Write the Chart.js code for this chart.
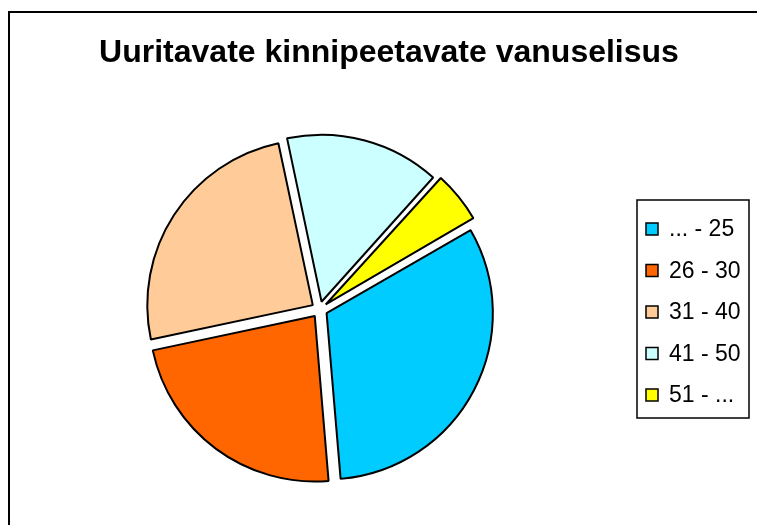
<!DOCTYPE html>
<html>
<head>
<meta charset="utf-8">
<script src="https://cdn.jsdelivr.net/npm/chart.js@4/dist/chart.umd.min.js"></script>
<style>
  html, body { margin: 0; padding: 0; background: #ffffff; }
  #wrap { width: 757px; height: 525px; position: relative; }
</style>
</head>
<body>
<div id="wrap"><canvas id="c" width="757" height="525"></canvas></div>
<script>
const TITLE = 'Uuritavate kinnipeetavate vanuselisus';
const categories = ['... - 25', '26 - 30', '31 - 40', '41 - 50', '51 - ...'];
const shares = [32, 23, 25, 15, 5];
const sliceColors = ['#00CCFF', '#FF6600', '#FFCC99', '#CCFFFF', '#FFFF00'];

const decorPlugin = {
  id: 'decor',
  beforeDraw(chart) {
    const ctx = chart.ctx;
    ctx.save();
    ctx.fillStyle = '#ffffff';
    ctx.fillRect(0, 0, chart.width, chart.height);
    ctx.strokeStyle = '#000000';
    ctx.lineWidth = 2;
    ctx.strokeRect(9, 12, 760, 530);
    ctx.restore();
  },
  afterDraw(chart) {
    const ctx = chart.ctx;
    ctx.save();
    // title
    ctx.fillStyle = '#000000';
    ctx.font = 'bold 32px "Liberation Sans", Arial, sans-serif';
    ctx.textAlign = 'center';
    ctx.textBaseline = 'middle';
    ctx.fillText(TITLE, 389, 53);
    // legend
    const bx = 637, by = 200, bw = 112, bh = 218;
    ctx.lineWidth = 1.5;
    ctx.strokeStyle = '#000000';
    ctx.strokeRect(bx, by, bw, bh);
    const labels = chart.data.labels;
    const colors = chart.data.datasets[0].backgroundColor;
    ctx.font = '23px "Liberation Sans", Arial, sans-serif';
    ctx.textAlign = 'left';
    ctx.textBaseline = 'middle';
    for (let i = 0; i < labels.length; i++) {
      const cy = 229 + i * 41.5;
      ctx.fillStyle = colors[i];
      ctx.fillRect(646, cy - 6, 12, 12);
      ctx.lineWidth = 1.5;
      ctx.strokeRect(646, cy - 6, 12, 12);
      ctx.fillStyle = '#000000';
      ctx.fillText(labels[i], 669, cy + 1);
    }
    ctx.restore();
  }
};

new Chart(document.getElementById('c'), {
  type: 'pie',
  data: {
    labels: categories,
    datasets: [{
      data: shares,
      backgroundColor: sliceColors,
      borderColor: '#000000',
      borderWidth: 2,
      offset: 32
    }]
  },
  options: {
    responsive: false,
    animation: false,
    rotation: 60,
    layout: { padding: { left: 137, right: 255, top: 127, bottom: 33 } },
    plugins: {
      legend: { display: false },
      title: { display: false },
      tooltip: { enabled: false }
    }
  },
  plugins: [decorPlugin]
});
</script>
</body>
</html>
